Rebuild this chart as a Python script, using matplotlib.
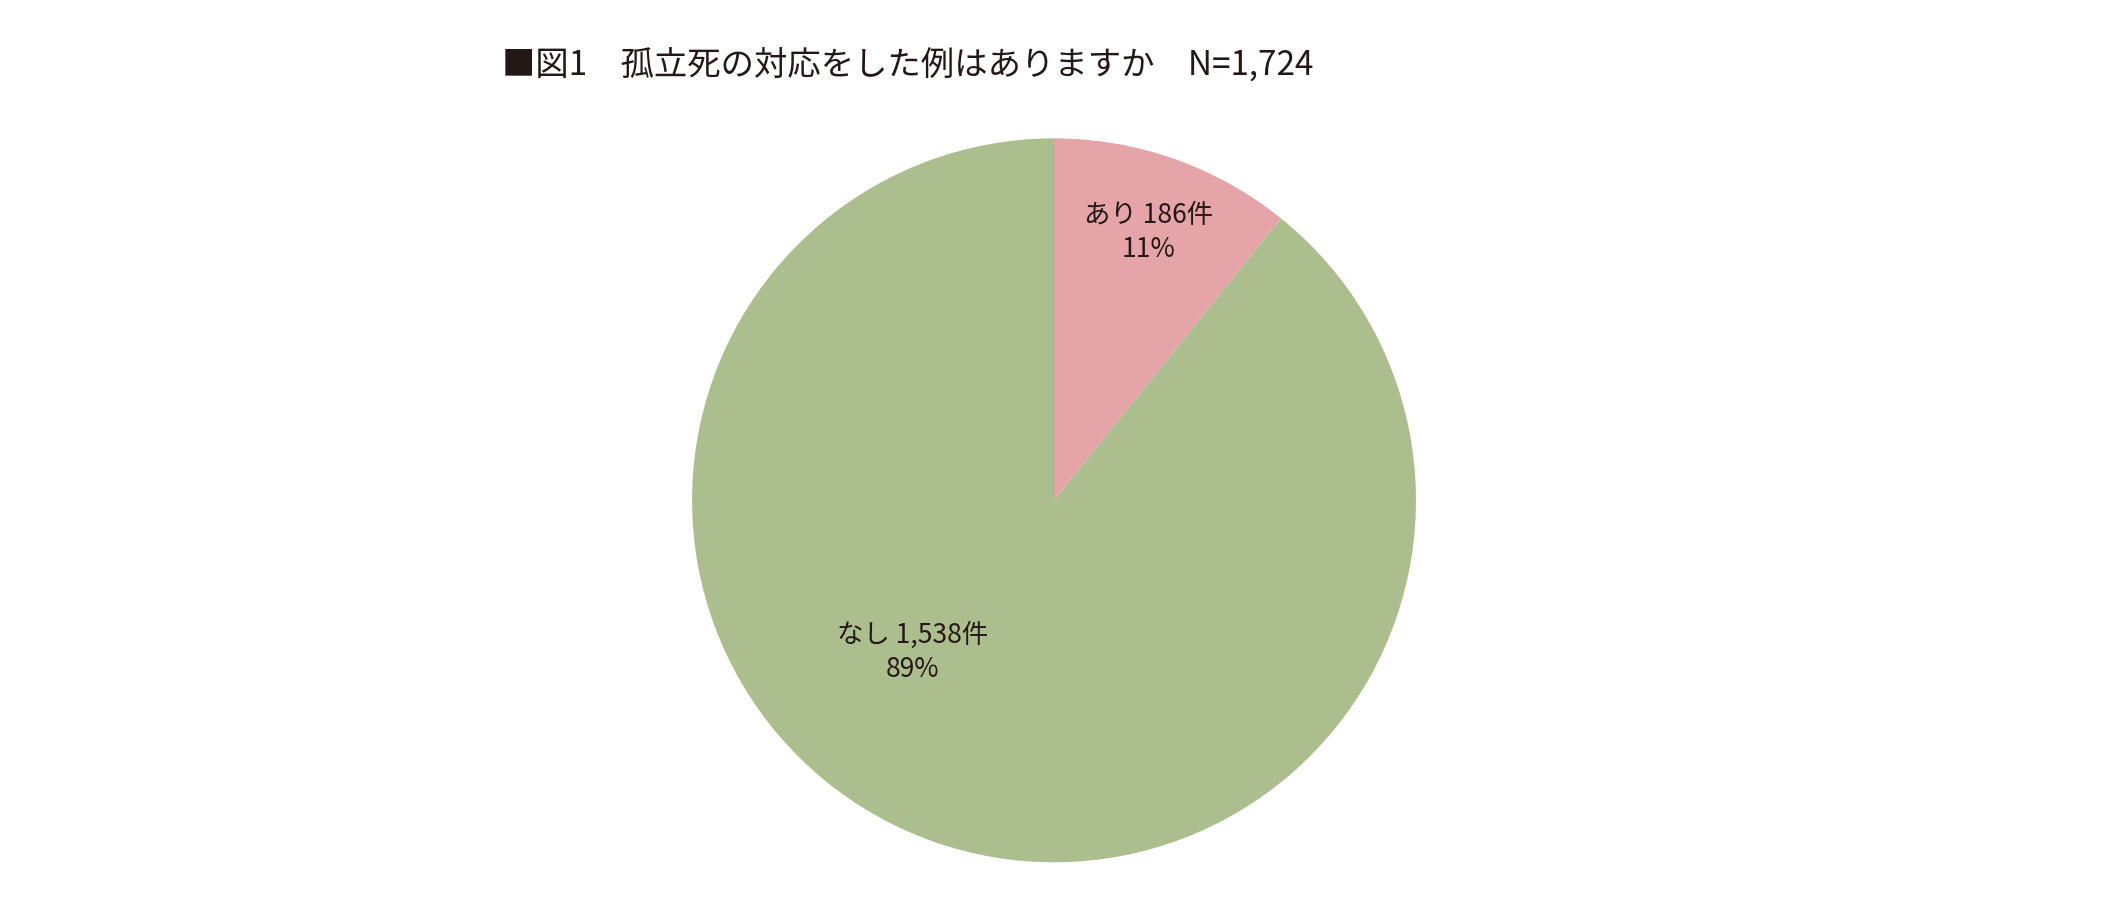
import matplotlib
matplotlib.use('Agg')
import matplotlib.pyplot as plt

plt.rcParams['font.family'] = ['Noto Sans CJK JP', 'DejaVu Sans']

labels = ['あり', 'なし']
counts = [186, 1538]
pcts = [11, 89]
colors = ['#E5A4A8', '#ADBE8E']
total = 1724

fig = plt.figure(figsize=(21.11, 9.18), dpi=100)
ax = fig.add_axes([0.4993 - 0.1715, 0.455 - 0.3943, 0.343, 0.7886])
ax.pie(counts, colors=colors, startangle=90, counterclock=False,
       wedgeprops=dict(linewidth=0))
ax.set_xlim(-1, 1)
ax.set_ylim(-1, 1)
ax.set_aspect('equal')

label_pos = [(0.26, 0.74), (-0.39, -0.42)]
for lab, c, p, (x, y) in zip(labels, counts, pcts, label_pos):
    ax.text(x, y, f'{lab} {c:,}件\n{p}%', ha='center', va='center',
            fontsize=19, linespacing=1.3, color='#231815')

fig.text(0.238, 0.929, f'■図1　孤立死の対応をした例はありますか　N={total:,}',
         ha='left', va='center', fontsize=24, color='#231815')

fig.savefig('out.png', dpi=100)
